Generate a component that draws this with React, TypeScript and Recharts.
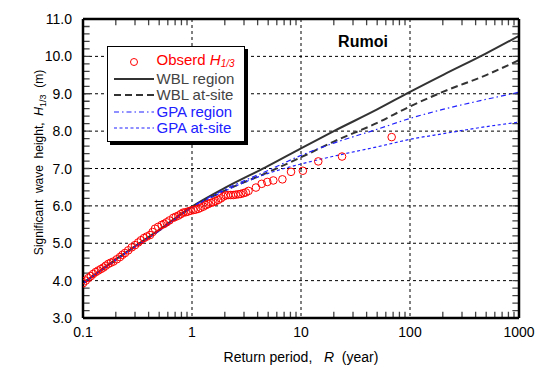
import React from 'react';
import { ComposedChart, Line, Scatter, XAxis, YAxis, CartesianGrid, ReferenceLine, Label } from 'recharts';

const FONT = '"Liberation Sans", Arial, sans-serif';

// Axis ticks
const xMajorTicks = [0.1, 1, 10, 100, 1000];
const xTickLabels = ['0.1', '1', '10', '100', '1000'];
const xMinorTicks = [0.2, 0.3, 0.4, 0.5, 0.6, 0.7, 0.8, 0.9, 2, 3, 4, 5, 6, 7, 8, 9, 20, 30, 40, 50, 60, 70, 80, 90, 200, 300, 400, 500, 600, 700, 800, 900];
const yMajorTicks = [3, 4, 5, 6, 7, 8, 9, 10, 11];
const yTickLabels = ['3.0', '4.0', '5.0', '6.0', '7.0', '8.0', '9.0', '10.0', '11.0'];
const yMinorTicks = [3.2, 3.4, 3.6, 3.8, 4, 4.2, 4.4, 4.6, 4.8, 5, 5.2, 5.4, 5.6, 5.8, 6, 6.2, 6.4, 6.6, 6.8, 7, 7.2, 7.4, 7.6, 7.8, 8, 8.2, 8.4, 8.6, 8.8, 9, 9.2, 9.4, 9.6, 9.8, 10, 10.2, 10.4, 10.6, 10.8];
const xDomain = [0.1, 1000];
const yDomain = [3, 11];

// Observed H1/3 (return period in years, height in m)
const obsR = [0.1, 0.106, 0.112, 0.118, 0.124, 0.131, 0.138, 0.146, 0.154, 0.162, 0.171, 0.18, 0.19, 0.204, 0.218, 0.23, 0.243, 0.26, 0.28, 0.3, 0.321, 0.34, 0.363, 0.385, 0.412, 0.435, 0.458, 0.49, 0.527, 0.555, 0.585, 0.62, 0.673, 0.71, 0.75, 0.79, 0.83, 0.875, 0.92, 0.97, 1.03, 1.08, 1.14, 1.2, 1.27, 1.34, 1.41, 1.49, 1.57, 1.65, 1.74, 1.84, 1.94, 2.04, 2.15, 2.27, 2.39, 2.52, 2.66, 2.8, 2.96, 3.12, 3.3, 3.86, 4.36, 4.91, 5.57, 6.75, 8.1, 10.4, 14.4, 23.8, 67.9];
const obsH = [3.93, 4.0, 4.07, 4.12, 4.18, 4.23, 4.27, 4.31, 4.35, 4.4, 4.45, 4.48, 4.51, 4.57, 4.63, 4.69, 4.74, 4.81, 4.89, 4.95, 5.02, 5.08, 5.14, 5.18, 5.22, 5.3, 5.39, 5.44, 5.49, 5.52, 5.56, 5.61, 5.68, 5.71, 5.74, 5.78, 5.82, 5.83, 5.85, 5.87, 5.89, 5.9, 5.92, 5.95, 5.98, 6.02, 6.05, 6.08, 6.1, 6.13, 6.16, 6.2, 6.25, 6.28, 6.29, 6.29, 6.29, 6.3, 6.31, 6.32, 6.34, 6.36, 6.4, 6.49, 6.59, 6.64, 6.68, 6.71, 6.91, 6.94, 7.19, 7.32, 7.84];

// Fitted curves
const curveR = [0.1, 0.2, 0.5, 1, 2, 5, 10, 20, 50, 100, 200, 500, 1000];
const wblRegion = [3.93, 4.57, 5.36, 5.98, 6.48, 7.07, 7.54, 8.0, 8.58, 9.05, 9.5, 10.08, 10.55];
const wblSite = [3.93, 4.55, 5.34, 5.96, 6.41, 6.9, 7.3, 7.72, 8.22, 8.66, 9.05, 9.5, 9.9];
const gpaRegion = [3.93, 4.56, 5.34, 5.97, 6.44, 6.95, 7.35, 7.68, 8.05, 8.34, 8.58, 8.85, 9.04];
const gpaSite = [3.93, 4.55, 5.33, 5.95, 6.4, 6.87, 7.12, 7.33, 7.58, 7.78, 7.93, 8.12, 8.24];

const obsData = obsR.map((R, i) => ({ R, H: obsH[i] }));
const mk = (vals: number[]) => curveR.map((R, i) => ({ R, H: vals[i] }));
const wblRegionData = mk(wblRegion);
const wblSiteData = mk(wblSite);
const gpaRegionData = mk(gpaRegion);
const gpaSiteData = mk(gpaSite);

// Inward tick marks on the frame, expressed in axis units (about 6 px)
const TICK_DY = 0.17;
const TICK_FX = 1.15;
const bottomTicks = xMinorTicks.flatMap((R) => [{ R, H: yDomain[0] }, { R, H: yDomain[0] + TICK_DY }, { R, H: null }]);
const topTicks = xMinorTicks.flatMap((R) => [{ R, H: yDomain[1] }, { R, H: yDomain[1] - TICK_DY }, { R, H: null }]);
const leftTicks = yMinorTicks.flatMap((H) => [{ R: xDomain[0], H }, { R: xDomain[0] * TICK_FX, H }, { R: xDomain[0] * TICK_FX, H: null }]);
const rightTicks = yMinorTicks.flatMap((H) => [{ R: xDomain[1] / TICK_FX, H }, { R: xDomain[1], H }, { R: xDomain[1], H: null }]);

// Frame edges
const frameSegments = [
  [{ x: xDomain[0], y: yDomain[0] }, { x: xDomain[1], y: yDomain[0] }],
  [{ x: xDomain[0], y: yDomain[1] }, { x: xDomain[1], y: yDomain[1] }],
  [{ x: xDomain[0], y: yDomain[0] }, { x: xDomain[0], y: yDomain[1] }],
  [{ x: xDomain[1], y: yDomain[0] }, { x: xDomain[1], y: yDomain[1] }],
];

const RED = '#ff0000';
const DARK = '#333333';
const TICK = '#444444';
const BLUE = '#2020ff';

const XTick = (props: any) => {
  const { x, y, index } = props;
  return (
    <text x={x} y={y + 11} textAnchor="middle" fontSize={14} fontFamily={FONT} fill="#000">
      {xTickLabels[index]}
    </text>
  );
};

const YTick = (props: any) => {
  const { x, y, index } = props;
  return (
    <text x={x} y={y + 5} textAnchor="end" fontSize={14} fontFamily={FONT} fill="#000">
      {yTickLabels[index]}
    </text>
  );
};

const XTitle = (props: any) => {
  const vb = props.viewBox || { x: 75, y: 310, width: 436, height: 50 };
  const cx = vb.x + vb.width / 2;
  return (
    <text x={cx} y={vb.y + 44} textAnchor="middle" fontSize={14} fontFamily={FONT} fill="#000" style={{ whiteSpace: 'pre' }}>
      <tspan>{'Return period,   '}</tspan>
      <tspan fontStyle="italic">R</tspan>
      <tspan>{'  (year)'}</tspan>
    </text>
  );
};

const YTitle = (props: any) => {
  const vb = props.viewBox || { x: 15, y: 11, width: 60, height: 299 };
  const bx = vb.x + 20;
  const cy = vb.y + vb.height / 2 - 6;
  return (
    <text
      x={bx}
      y={cy}
      transform={`rotate(-90 ${bx} ${cy})`}
      textAnchor="middle"
      fontSize={12}
      fontFamily={FONT}
      fill="#000"
      style={{ whiteSpace: 'pre' }}
    >
      <tspan>{'Significant  wave  height,  '}</tspan>
      <tspan fontStyle="italic">H</tspan>
      <tspan fontSize={9} dy={3}>1/3</tspan>
      <tspan dy={-3}>{'  (m)'}</tspan>
    </text>
  );
};

const ObsDot = (props: any) => {
  const { cx, cy } = props;
  if (cx == null || cy == null) return <g />;
  return <circle cx={cx} cy={cy} r={3.8} fill="none" stroke={RED} strokeWidth={1} />;
};

const legendItems = [
  { key: 'obs', color: RED, kind: 'circle' },
  { key: 'wblr', color: DARK, kind: 'line', dash: undefined, width: 2, label: 'WBL region' },
  { key: 'wbls', color: DARK, kind: 'line', dash: '7 4', width: 2, label: 'WBL at-site' },
  { key: 'gpar', color: BLUE, kind: 'line', dash: '5 3 1.5 3', width: 1.2, label: 'GPA region' },
  { key: 'gpas', color: BLUE, kind: 'line', dash: '3 2.5', width: 1.2, label: 'GPA at-site' },
];

const LegendBox = () => (
  <div
    style={{
      position: 'absolute',
      left: 99,
      top: 38,
      width: 138,
      height: 96,
      boxSizing: 'border-box',
      border: '1.5px solid #000',
      background: '#fff',
      boxShadow: '3px 3px 0 #000',
      paddingTop: 7,
      fontFamily: FONT,
      fontSize: 15,
    }}
  >
    {legendItems.map((it) => (
      <div key={it.key} style={{ display: 'flex', alignItems: 'center', height: 16.5, lineHeight: '16.5px' }}>
        <svg width={40} height={16} style={{ marginLeft: 5.5, flex: 'none' }}>
          {it.kind === 'circle' ? (
            <circle cx={20} cy={8} r={3.5} fill="none" stroke={RED} strokeWidth={1} />
          ) : (
            <line x1={0} x2={40} y1={8} y2={8} stroke={it.color} strokeWidth={it.width} strokeDasharray={it.dash} />
          )}
        </svg>
        <span style={{ marginLeft: 3, color: it.key.startsWith('wbl') ? '#444' : it.color, whiteSpace: 'nowrap' }}>
          {it.kind === 'circle' ? (
            <>
              Obserd <i>H</i>
              <i style={{ fontSize: 10, verticalAlign: -2 }}>1/3</i>
            </>
          ) : (
            it.label
          )}
        </span>
      </div>
    ))}
  </div>
);

export default function App() {
  return (
    <div style={{ position: 'relative', width: 535, height: 360 }}>
      <ComposedChart width={535} height={360} margin={{ top: 11, right: 24, bottom: 0, left: 15 }}>
        <XAxis
          xAxisId="x"
          dataKey="R"
          type="number"
          scale="log"
          domain={xDomain}
          allowDataOverflow
          ticks={xMajorTicks}
          interval={0}
          tickLine={false}
          axisLine={false}
          tick={XTick}
          height={50}
        >
          <Label content={XTitle} />
        </XAxis>
        <YAxis
          yAxisId="y"
          type="number"
          domain={yDomain}
          allowDataOverflow
          ticks={yMajorTicks}
          interval={0}
          tickLine={false}
          axisLine={false}
          tickMargin={5}
          tick={YTick}
          width={60}
        >
          <Label content={YTitle} />
        </YAxis>
        <CartesianGrid xAxisId="x" yAxisId="y" stroke="#000" strokeWidth={1} strokeDasharray="3 3" />
        <Line xAxisId="x" yAxisId="y" data={bottomTicks} dataKey="H" stroke={TICK} strokeWidth={1.3} dot={false} isAnimationActive={false} />
        <Line xAxisId="x" yAxisId="y" data={topTicks} dataKey="H" stroke={TICK} strokeWidth={1.3} dot={false} isAnimationActive={false} />
        <Line xAxisId="x" yAxisId="y" data={leftTicks} dataKey="H" stroke={TICK} strokeWidth={1.3} dot={false} isAnimationActive={false} />
        <Line xAxisId="x" yAxisId="y" data={rightTicks} dataKey="H" stroke={TICK} strokeWidth={1.3} dot={false} isAnimationActive={false} />
        <Line xAxisId="x" yAxisId="y" data={wblRegionData} dataKey="H" type="monotoneX" stroke={DARK} strokeWidth={2} dot={false} isAnimationActive={false} />
        <Line xAxisId="x" yAxisId="y" data={wblSiteData} dataKey="H" type="monotoneX" stroke={DARK} strokeWidth={2} strokeDasharray="7 4" dot={false} isAnimationActive={false} />
        <Line xAxisId="x" yAxisId="y" data={gpaRegionData} dataKey="H" type="monotoneX" stroke={BLUE} strokeWidth={1.2} strokeDasharray="5 3 1.5 3" dot={false} isAnimationActive={false} />
        <Line xAxisId="x" yAxisId="y" data={gpaSiteData} dataKey="H" type="monotoneX" stroke={BLUE} strokeWidth={1.2} strokeDasharray="3 2.5" dot={false} isAnimationActive={false} />
        <Scatter xAxisId="x" yAxisId="y" data={obsData} dataKey="H" shape={ObsDot} isAnimationActive={false} />
        {frameSegments.map((seg, i) => (
          <ReferenceLine key={`frame${i}`} xAxisId="x" yAxisId="y" segment={seg} stroke="#000" strokeWidth={2.5} />
        ))}
      </ComposedChart>
      <LegendBox />
      <div
        style={{
          position: 'absolute',
          left: 315,
          top: 24,
          width: 80,
          textAlign: 'center',
          fontFamily: FONT,
          fontWeight: 'bold',
          fontSize: 16,
          lineHeight: '20px',
          color: '#000',
        }}
      >
        Rumoi
      </div>
    </div>
  );
}
